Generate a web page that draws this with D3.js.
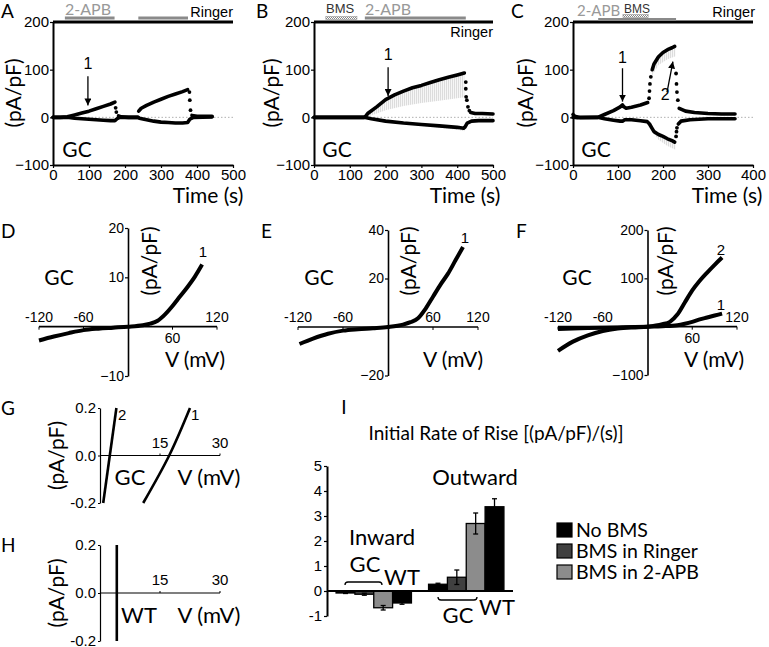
<!DOCTYPE html>
<html><head><meta charset="utf-8">
<script src="https://cdn.jsdelivr.net/npm/d3@7/dist/d3.min.js"></script>
<style>body{margin:0;background:#fff}svg{display:block}</style>
</head><body>
<svg id="c" width="769" height="647"></svg>
<script>
// ---------------- DATA ----------------
const timeYTicks = [-100, 0, 100, 200];
const timeXTicksAB = [0, 100, 200, 300, 400, 500];
const timeXTicksC = [0, 100, 200, 300, 400];

// Panel A (time s, current pA/pF)
const A_out = [[0,0],[20,0],[40,1],[60,5],[80,9],[100,13],[120,18],[140,23],[160,28],[172,32],null,
  [182,3],[190,1],[210,0],[236,0],null,
  [238,13],[245,19],[260,25],[280,32],[300,38],[320,44],[340,49],[360,54],[374,58],null,
  [386,4],[400,2],[420,2],[442,2]];
const A_outDots = [[174,20],[176,11],[379,53],[380,36],[382,15]];
const A_in = [[0,0],[40,0],[60,-2],[80,-3],[100,-4],[120,-5],[140,-6],[160,-7],[172,-7],[178,-3],[185,0],[236,0],
  [240,-2],[260,-5],[280,-8],[300,-10],[320,-11],[340,-12],[360,-12],[374,-11],[380,-4],[390,0],[442,1]];
const A_apb = [[33,171],[237,375]];

// Panel B
const B_out = [[0,0],[140,0],[145,3],[150,8],[175,22],[200,37],[225,47],[250,55],[275,62],[300,67],[325,73],
  [350,79],[375,84],[400,89],[420,93],null,[438,10],[450,8],[470,8],[500,7]];
const B_outDots = [[424,74],[424,60],[425,43],[427,36],[430,22],[434,14]];
const B_in = [[0,0],[140,0],[160,-3],[200,-8],[250,-12],[300,-15],[350,-18],[400,-21],[418,-23],[422,-20],
  [428,-12],[440,-8],[460,-7],[500,-7]];
const B_outShade = [[145,3,1],[150,8,2],[175,22,8],[200,37,15],[250,55,24],[300,67,30],[350,79,35],[400,89,40],[420,93,42]];
const B_inShade = [[300,-15,-17],[400,-21,-26],[420,-23,-29]];
const B_bms = [[33,120]];
const B_apb = [[142,424]];

// Panel C
const C_out = [[0,6],[3,3],[8,1],[15,0],[55,0],[70,6],[90,14],[105,22],[110,26],[113,22],[118,19],[130,21],
  [150,26],[166,31],null,[176,100],[180,112],[190,127],[200,136],[210,142],[220,146],[226,149],null,
  [236,19],[250,13],[270,10],[300,8],[330,7],[360,7]];
const C_outDots = [[169,40],[170,55],[171,70],[173,85],[229,92],[230,70],[231,53],[233,36]];
const C_in = [[0,0],[10,-1],[55,0],[70,-3],[90,-6],[105,-8],[110,-8],[115,-5],[130,-5],[150,-7],[165,-9],
  [170,-14],[175,-22],[180,-30],[190,-36],[200,-40],[210,-45],[220,-49],[226,-52],null,
  [234,-14],[240,-8],[260,-5],[300,-3],[360,-3]];
const C_inDots = [[229,-40],[230,-30],[231,-22]];
const C_outShade = [[176,100,88],[190,127,110],[210,142,122],[228,146,128]];
const C_inShade = [[175,-22,-28],[190,-36,-47],[210,-45,-60],[228,-52,-68]];
const C_apb = [[56,229]];
const C_bms = [[111,167]];

// I-V panels (mV, pA/pF)
const D_V = [-120,-100,-80,-60,-40,-20,0,20,30,40,50,60,70,80,90,100];
const D_I = [-2.8,-2.0,-1.3,-0.7,-0.4,-0.2,0,0.3,0.6,1.2,2.5,4.2,6.1,8.0,10.1,12.6];
const E_V = [-118,-100,-80,-60,-40,-20,0,20,30,40,50,60,70,80,90,100];
const E_I = [-7,-4.8,-2.8,-1.5,-0.9,-0.5,0,1,2,3.6,7.5,12.5,17.5,22,27.5,33];
const F2_V = [-120,-100,-80,-60,-40,-20,0,20,30,40,50,60,70,80,90,100];
const F2_I = [-50,-31,-18,-9,-4,-1.5,0,5,10,25,50,75,95,112,128,143];
const F1_V = [-120,-80,-40,0,20,40,50,60,70,80,90,100];
const F1_I = [-5,-3,-1.5,0,1,3,6,10,15,19,23,27];
const ivXTicks = [-120,-60,60,120];

// reversal zoom panels
const G2_V = [0.8, 4.1];
const G2_I = [-0.2, 0.2];
const G1_V = [10.8, 17.3, 22.5];
const G1_I = [-0.2, 0, 0.2];
const H_V = [4.2, 4.2];
const H_I = [-0.2, 0.2];
const ghYTicks = [-0.2, 0, 0.2];
const ghXTicks = [15, 30];

// Bar chart I
const groups = ["Inward", "Outward"];
const conditions = ["GC No BMS", "GC BMS in Ringer", "GC BMS in 2-APB", "WT No BMS"];
const inwardMean = [-0.08, -0.13, -0.67, -0.48];
const inwardErr = [0.02, 0.04, 0.09, 0.05];
const outwardMean = [0.27, 0.55, 2.7, 3.37];
const outwardErr = [0.04, 0.29, 0.42, 0.32];
const barColors = ["#000000", "#404040", "#8c8c8c", "#000000"];
const legendLabels = ["No BMS", "BMS in Ringer", "BMS in 2-APB"];
const legendColors = ["#000000", "#404040", "#8c8c8c"];
const barYTicks = [-1, 0, 1, 2, 3, 4, 5];

// ---------------- DRAW ----------------
const svg = d3.select("#c");
const SANS = "Lato, 'Open Sans', sans-serif";
const ARIAL = "'Liberation Sans', Arial, sans-serif";

const defs = svg.append("defs");
defs.append("marker").attr("id","arr").attr("viewBox","0 0 10 10").attr("refX",10).attr("refY",5)
  .attr("markerWidth",7).attr("markerHeight",7).attr("markerUnits","userSpaceOnUse").attr("orient","auto")
  .append("path").attr("d","M0,0L10,5L0,10Z").attr("fill","#000");
const pat = defs.append("pattern").attr("id","chk").attr("width",2).attr("height",2).attr("patternUnits","userSpaceOnUse");
pat.append("rect").attr("width",2).attr("height",2).attr("fill","#fff");
pat.append("rect").attr("width",1).attr("height",1).attr("fill","#888");
pat.append("rect").attr("x",1).attr("y",1).attr("width",1).attr("height",1).attr("fill","#888");
const hat = defs.append("pattern").attr("id","vh").attr("width",2).attr("height",4).attr("patternUnits","userSpaceOnUse");
hat.append("rect").attr("width",2).attr("height",4).attr("fill","#f6f6f6");
hat.append("rect").attr("width",1).attr("height",4).attr("fill","#dcdcdc");

function txt(g, x, y, s, opt={}) {
  return g.append("text").attr("x",x).attr("y",y).text(s)
    .attr("font-family", opt.font || SANS).attr("font-size", opt.size || 20)
    .attr("text-anchor", opt.anchor || "middle").attr("fill", opt.fill || "#000");
}
function vtxt(g, cx, cy, s, size=20) {
  g.append("text").attr("transform",`translate(${cx},${cy}) rotate(-90)`).text(s)
    .attr("font-family",SANS).attr("font-size",size).attr("text-anchor","middle").attr("dominant-baseline","central");
}
function styleAxis(a, w, size) {
  a.attr("font-family", ARIAL).attr("font-size", size);
  a.select(".domain").attr("stroke-width", w);
  a.selectAll(".tick line").attr("stroke-width", 1.2);
}

function timePanel(p) {
  const x = d3.scaleLinear().domain([0, p.xmax]).range([p.x0, p.x1]);
  const y = d3.scaleLinear().domain([-100, 200]).range([165, 22]);
  const g = svg.append("g");
  const area = d3.area().x(d=>x(d[0])).y0(d=>y(d[2])).y1(d=>y(d[1]));
  p.shades.forEach(s => g.append("path").attr("d", area(s)).attr("fill","url(#vh)"));
  g.append("line").attr("x1",x(0)).attr("x2",x(p.xmax)).attr("y1",y(0)).attr("y2",y(0))
    .attr("stroke","#b0b0b0").attr("stroke-dasharray","1.5,2").attr("stroke-width",1);
  const ya = g.append("g").attr("transform",`translate(${p.x0},0)`)
    .call(d3.axisLeft(y).tickValues(timeYTicks).tickSize(3).tickPadding(1).tickSizeOuter(0).tickFormat(d3.format("d")));
  styleAxis(ya, 2, 15);
  const xa = g.append("g").attr("transform",`translate(0,165)`)
    .call(d3.axisBottom(x).tickValues(p.xticks).tickSize(3).tickPadding(1).tickSizeOuter(0));
  styleAxis(xa, 2, 15);
  g.append("line").attr("x1",x(0)).attr("x2",x(p.xmax)).attr("y1",y(200)).attr("y2",y(200))
    .attr("stroke","#000").attr("stroke-width",3);
  p.apb.forEach(b => g.append("rect").attr("x",x(b[0])).attr("width",x(b[1])-x(b[0]))
    .attr("y",p.apbY).attr("height",3).attr("fill","#8a8a8a"));
  (p.bms||[]).forEach(b => g.append("rect").attr("x",x(b[0])).attr("width",x(b[1])-x(b[0]))
    .attr("y",p.bmsY).attr("height",3).attr("fill","url(#chk)").attr("stroke","#999").attr("stroke-width",0.6));
  const line = d3.line().defined(d=>d!=null).x(d=>x(d[0])).y(d=>y(d[1]));
  [p.out, p.inn].forEach(tr => g.append("path").attr("d", line(tr)).attr("fill","none")
    .attr("stroke","#000").attr("stroke-width",3.6).attr("stroke-linejoin","round").attr("stroke-linecap","round"));
  p.dots.forEach(d => g.append("circle").attr("cx",x(d[0])).attr("cy",y(d[1])).attr("r",1.9).attr("fill","#000"));
  p.arrows.forEach(a => {
    g.append("line").attr("x1",x(a.t0)).attr("y1",y(a.v0)).attr("x2",x(a.t1)).attr("y2",y(a.v1))
      .attr("stroke","#000").attr("stroke-width",1.3).attr("marker-end","url(#arr)");
    txt(g, x(a.lt), y(a.lv), a.label, {font:ARIAL, size:16});
  });
  txt(g, p.gcX, 157, "GC", {size:21});
  txt(g, p.timeX, 203, "Time (s)", {size:21});
  vtxt(g, p.ylabX, 93, "(pA/pF)", 21);
  return {x, y, g};
}

const pa = timePanel({x0:53, x1:233, xmax:500, xticks:timeXTicksAB, out:A_out, inn:A_in, dots:A_outDots,
  shades:[], apb:A_apb, apbY:16.5, gcX:77, timeX:208, ylabX:12,
  arrows:[{t0:97,v0:86,t1:97,v1:25,lt:97,lv:102,label:"1"}]});
txt(pa.g, 65, 15, "2-APB", {size:16, anchor:"start", fill:"#999"});
txt(pa.g, 233, 17, "Ringer", {font:ARIAL, size:14.5, anchor:"end"});
txt(pa.g, 1, 18, "A", {size:19, anchor:"start"});

const pb = timePanel({x0:314, x1:493, xmax:500, xticks:timeXTicksAB, out:B_out, inn:B_in, dots:B_outDots,
  shades:[B_outShade, B_inShade], apb:B_apb, apbY:16.5, bms:B_bms, bmsY:16.5, gcX:337, timeX:465, ylabX:270,
  arrows:[{t0:207,v0:105,t1:207,v1:45,lt:207,lv:121,label:"1"}]});
txt(pb.g, 326, 13, "BMS", {font:ARIAL, size:13, anchor:"start", fill:"#333"});
txt(pb.g, 365, 15, "2-APB", {size:16, anchor:"start", fill:"#999"});
txt(pb.g, 493, 37, "Ringer", {font:ARIAL, size:14.5, anchor:"end"});
txt(pb.g, 256, 18, "B", {size:19, anchor:"start"});

const pc = timePanel({x0:573, x1:753, xmax:400, xticks:timeXTicksC, out:C_out, inn:C_in, dots:C_outDots.concat(C_inDots),
  shades:[C_outShade, C_inShade], apb:C_apb, apbY:18, bms:C_bms, bmsY:14.5, gcX:596, timeX:727, ylabX:524,
  arrows:[{t0:110,v0:103,t1:110,v1:33,lt:110,lv:113,label:"1"},
          {t0:209,v0:53,t1:222,v1:117,lt:205,lv:36,label:"2"}]});
txt(pc.g, 577, 16, "2-APB", {size:15, anchor:"start", fill:"#999"});
txt(pc.g, 624, 12.5, "BMS", {font:ARIAL, size:12, anchor:"start", fill:"#333"});
txt(pc.g, 755, 17, "Ringer", {font:ARIAL, size:14.5, anchor:"end"});
txt(pc.g, 511, 18, "C", {size:19, anchor:"start"});

function ivPanel(p) {
  const x = d3.scaleLinear().domain([-120,120]).range([p.xl, p.xr]);
  const y = d3.scaleLinear().domain([p.ymin, p.ymax]).range([p.yb, p.yt]);
  const g = svg.append("g");
  g.append("line").attr("x1",x(-120)).attr("x2",x(120)).attr("y1",y(0)).attr("y2",y(0))
    .attr("stroke","#000").attr("stroke-width",1.6);
  ivXTicks.forEach(v => g.append("line").attr("x1",x(v)).attr("x2",x(v)).attr("y1",y(0)).attr("y2",y(0)+3)
    .attr("stroke","#000").attr("stroke-width",1));
  const ya = g.append("g").attr("transform",`translate(${x(0)},0)`)
    .call(d3.axisLeft(y).tickValues(p.yticks).tickSize(3).tickPadding(1).tickSizeOuter(0));
  styleAxis(ya, 1.6, 14);
  ivXTicks.forEach(v => {
    const below = p.below.includes(v);
    txt(g, x(v), below ? y(0)+16 : y(0)-5, String(v), {font:ARIAL, size:14});
  });
  const line = d3.line().curve(d3.curveMonotoneX).x(d=>x(d[0])).y(d=>y(d[1]));
  p.curves.forEach(c => {
    g.append("path").attr("d", line(d3.zip(c.V, c.I))).attr("fill","none").attr("stroke","#000")
      .attr("stroke-width",4).attr("stroke-linecap","butt");
    txt(g, c.lx, c.ly, c.label, {font:ARIAL, size:15});
  });
  txt(g, p.gcX, 285, "GC", {size:21});
  txt(g, p.vX, 367, "V (mV)", {size:21});
  vtxt(g, p.ylabX, 261, "(pA/pF)", 21);
  txt(g, p.letX, 238, p.letter, {size:19, anchor:"start"});
}
ivPanel({xl:39, xr:217, ymin:-10, ymax:20, yb:376, yt:228, yticks:[-10,10,20], below:[60],
  curves:[{V:D_V, I:D_I, label:"1", lx:203, ly:257}], gcX:59, vX:195, ylabX:148, letter:"D", letX:1});
ivPanel({xl:298, xr:478, ymin:-20, ymax:40, yb:375.5, yt:230, yticks:[-20,20,40], below:[],
  curves:[{V:E_V, I:E_I, label:"1", lx:465, ly:243}], gcX:319, vX:453, ylabX:407, letter:"E", letX:261});
ivPanel({xl:558, xr:737, ymin:-100, ymax:200, yb:375, yt:230, yticks:[-100,100,200], below:[60],
  curves:[{V:F2_V, I:F2_I, label:"2", lx:721, ly:255},{V:F1_V, I:F1_I, label:"1", lx:721, ly:310}],
  gcX:577, vX:714, ylabX:664, letter:"F", letX:516});

function ghPanel(p) {
  const x = d3.scaleLinear().domain([0,30]).range([100,220]);
  const y = d3.scaleLinear().domain([-0.2,0.2]).range([p.yb, p.yt]);
  const g = svg.append("g");
  g.append("line").attr("x1",x(0)).attr("x2",x(30)).attr("y1",y(0)).attr("y2",y(0)).attr("stroke","#000").attr("stroke-width",1.2);
  ghXTicks.forEach(v => {
    g.append("line").attr("x1",x(v)).attr("x2",x(v)).attr("y1",y(0)).attr("y2",y(0)-2).attr("stroke","#000");
    txt(g, x(v), y(0)-8, String(v), {font:ARIAL, size:15});
  });
  const ya = g.append("g").attr("transform",`translate(${x(0)},0)`)
    .call(d3.axisLeft(y).tickValues(ghYTicks).tickSize(2).tickPadding(2).tickSizeOuter(0).tickFormat(d3.format(".1f")));
  styleAxis(ya, 1.2, 15);
  ya.selectAll(".tick text").text(d => d3.format(".1f")(d).replace("\u2212","-"));
  const line = d3.line().curve(d3.curveMonotoneY).x(d=>x(d[0])).y(d=>y(d[1]));
  p.curves.forEach(c => {
    g.append("path").attr("d", line(d3.zip(c.V, c.I))).attr("fill","none").attr("stroke","#000").attr("stroke-width",2.6);
    if (c.label) txt(g, c.lx, c.ly, c.label, {font:ARIAL, size:15, anchor:"start"});
  });
  txt(g, p.cellX, p.yb-18, p.cell, {size:22});
  txt(g, 209, p.yb-18, "V (mV)", {size:22});
  vtxt(g, 55, (p.yb+p.yt)/2, "(pA/pF)", 21);
  txt(g, 1, p.yt+7, p.letter, {size:19, anchor:"start"});
}
ghPanel({yb:503, yt:408, cell:"GC", cellX:130, letter:"G",
  curves:[{V:G2_V, I:G2_I, label:"2", lx:118, ly:420},{V:G1_V, I:G1_I, label:"1", lx:191, ly:420}]});
ghPanel({yb:641, yt:545, cell:"WT", cellX:139, letter:"H",
  curves:[{V:H_V, I:H_I}]});

// Bar chart
(function(){
  const g = svg.append("g");
  const x0 = d3.scaleBand().domain(groups).range([327,513]).paddingInner(0.185).paddingOuter(0.098);
  const x1 = d3.scaleBand().domain(conditions).range([0, x0.bandwidth()]);
  const y = d3.scaleLinear().domain([-1,5]).range([616,466]);
  const data = [inwardMean.map((m,i)=>({g:"Inward",c:conditions[i],m,e:inwardErr[i],col:barColors[i]})),
                outwardMean.map((m,i)=>({g:"Outward",c:conditions[i],m,e:outwardErr[i],col:barColors[i]}))].flat();
  g.selectAll("rect.bar").data(data).join("rect").attr("class","bar")
    .attr("x",d=>x0(d.g)+x1(d.c)).attr("width",x1.bandwidth())
    .attr("y",d=>y(Math.max(0,d.m))).attr("height",d=>Math.abs(y(d.m)-y(0)))
    .attr("fill",d=>d.col).attr("stroke","#000").attr("stroke-width",1.3);
  data.forEach(d => {
    const cx = x0(d.g)+x1(d.c)+x1.bandwidth()/2;
    const lo = d.m - d.e, hi = d.m + d.e;
    g.append("line").attr("x1",cx).attr("x2",cx).attr("y1",y(lo)).attr("y2",y(hi)).attr("stroke","#000").attr("stroke-width",1.3);
    [lo,hi].forEach(v => g.append("line").attr("x1",cx-2.5).attr("x2",cx+2.5).attr("y1",y(v)).attr("y2",y(v)).attr("stroke","#000").attr("stroke-width",1.3));
  });
  const ya = g.append("g").attr("transform","translate(327,0)")
    .call(d3.axisLeft(y).tickValues(barYTicks).tickSize(3).tickPadding(2).tickSizeOuter(0).tickFormat(d3.format("d")));
  styleAxis(ya, 2, 15);
  ya.selectAll(".tick text").text(d => String(d));
  g.append("line").attr("x1",327).attr("x2",513).attr("y1",y(0)).attr("y2",y(0)).attr("stroke","#000").attr("stroke-width",2);
  txt(g, 496, 440, "Initial Rate of Rise [(pA/pF)/(s)]", {size:19});
  txt(g, 344, 414, "I", {size:19});
  txt(g, 475, 485, "Outward", {size:22});
  txt(g, 382, 545, "Inward", {size:22});
  txt(g, 365, 572, "GC", {size:22});
  txt(g, 402, 585, "WT", {size:22});
  txt(g, 458, 623, "GC", {size:22});
  txt(g, 497, 615, "WT", {size:22});
  g.append("path").attr("d","M345,585 Q345,582 348,582 L379,582 Q382,582 382,585").attr("fill","none").attr("stroke","#000").attr("stroke-width",1.3);
  g.append("path").attr("d","M438,597 Q438,600 441,600 L474,600 Q477,600 477,597").attr("fill","none").attr("stroke","#000").attr("stroke-width",1.3);
  legendLabels.forEach((l,i) => {
    const yy = 523 + i*21;
    g.append("rect").attr("x",557).attr("y",yy).attr("width",15).attr("height",14).attr("fill",legendColors[i]).attr("stroke","#000").attr("stroke-width",1.2);
    txt(g, 576, yy+14, l, {size:19.5, anchor:"start"});
  });
})();
</script>
</body></html>
